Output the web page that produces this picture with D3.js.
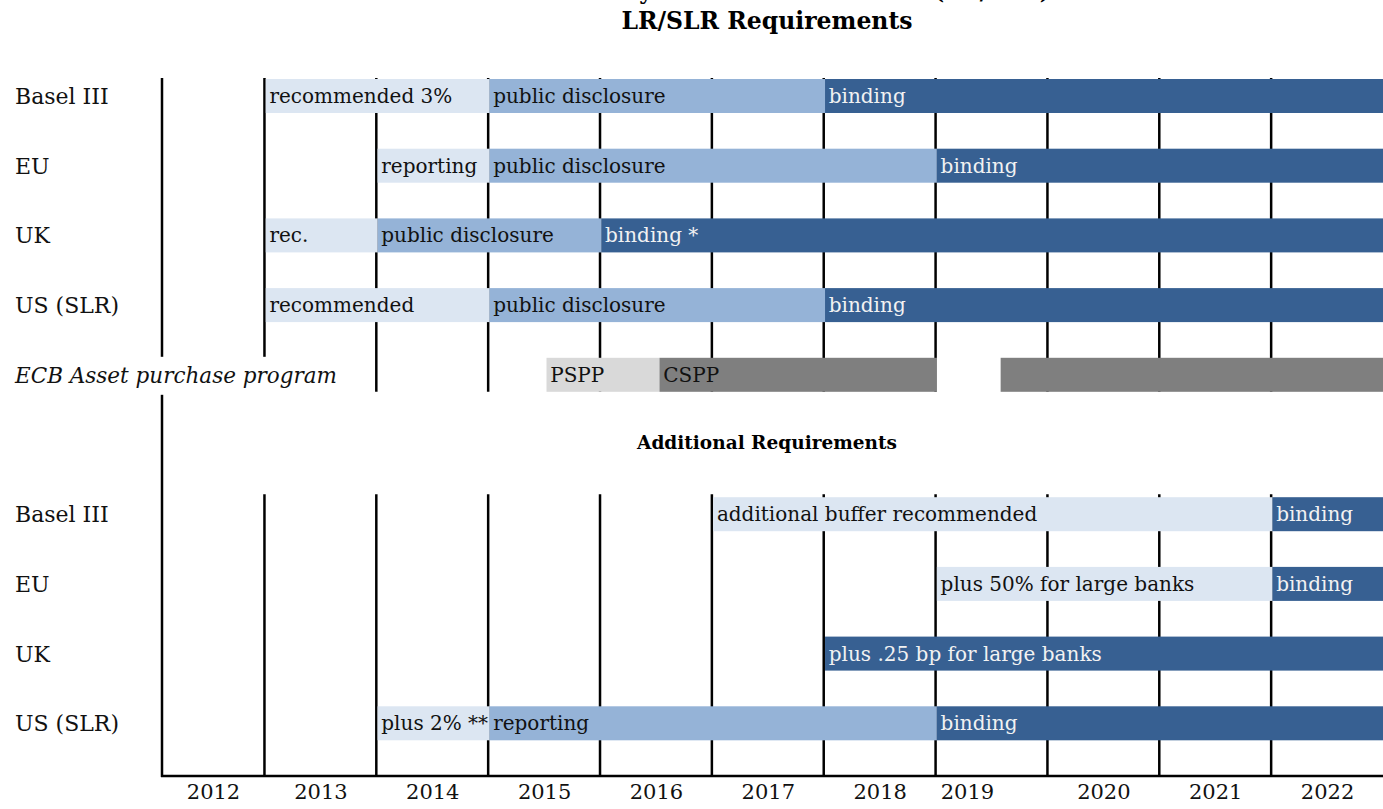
<!DOCTYPE html>
<html>
<head>
<meta charset="utf-8">
<script src="https://cdn.jsdelivr.net/npm/d3@7"></script>
<style>
  body { margin: 0; background: #fff; }
  svg text { font-family: "DejaVu Serif", "Liberation Serif", serif; }
</style>
</head>
<body>
<script>
// Timeline of leverage ratio requirements

const years = [2012, 2013, 2014, 2015, 2016, 2017, 2018, 2019, 2020, 2021, 2022];
const yearLabelAt = [2012.54, 2013.5, 2014.5, 2015.5, 2016.5, 2017.5, 2018.5, 2019.28, 2020.5, 2021.5, 2022.5];
const gridYears = [2013, 2014, 2015, 2016, 2017, 2018, 2019, 2020, 2021, 2022];

const lrRows = ["Basel III", "EU", "UK", "US (SLR)"];
const ecbRow = "ECB Asset purchase program";
const addRows = ["Basel III", "EU", "UK", "US (SLR)"];

// [row, from, to, label, kind]
const lrPhases = [
    [0, 2013, 2015, "recommended 3%", "rec"],
    [0, 2015, 2018, "public disclosure", "disc"],
    [0, 2018, 2023, "binding", "bind"],
    [1, 2014, 2015, "reporting", "rec"],
    [1, 2015, 2019, "public disclosure", "disc"],
    [1, 2019, 2023, "binding", "bind"],
    [2, 2013, 2014, "rec.", "rec"],
    [2, 2014, 2016, "public disclosure", "disc"],
    [2, 2016, 2023, "binding *", "bind"],
    [3, 2013, 2015, "recommended", "rec"],
    [3, 2015, 2018, "public disclosure", "disc"],
    [3, 2018, 2023, "binding", "bind"]
];

const ecbPhases = [
    [4, 2015.51, 2016.52, "PSPP", "pspp"],
    [4, 2016.52, 2019, "CSPP", "cspp"],
    [4, 2019, 2019.57, "", "pause"],
    [4, 2019.57, 2023, "", "cspp"]
];

const addPhases = [
    [6, 2017, 2022, "additional buffer recommended", "rec"],
    [6, 2022, 2023, "binding", "bind"],
    [7, 2019, 2022, "plus 50% for large banks", "rec"],
    [7, 2022, 2023, "binding", "bind"],
    [8, 2018, 2023, "plus .25 bp for large banks", "bind"],
    [9, 2014, 2015, "plus 2% **", "rec"],
    [9, 2015, 2019, "reporting", "disc"],
    [9, 2019, 2023, "binding", "bind"]
];

const fills = { rec: "#dce6f2", disc: "#95b3d7", bind: "#376092", pspp: "#d9d9d9", cspp: "#7f7f7f", pause: "#ffffff" };
const inks = { rec: "#111", disc: "#111", bind: "#f2f2f2", pspp: "#111", cspp: "#111", pause: "#111" };

const width = 1383, height = 809;
const left = 162, right = 1383;
const barH = 34;

const svg = d3.select("body").append("svg")
    .attr("width", width)
    .attr("height", height);

const x = d3.scaleLinear().domain([2012.084, 2023]).range([left, right]);
// row index -> top of bar
const y = d3.scaleLinear().domain([0, 9]).range([79, 706.3]);

const axisY = 776;
const topSectionEnd = y(4) + barH;
const bottomSectionStart = y(6) - 3;

// heading line cut off at the top edge, as in the source
svg.append("text")
    .attr("x", 426).attr("y", -1)
    .attr("font-size", 22).attr("font-weight", "bold")
    .attr("letter-spacing", 0.6)
    .text("Time Overview by National Authorities (LR/SLR)");

svg.append("text")
    .attr("x", 767).attr("y", 29)
    .attr("text-anchor", "middle")
    .attr("font-size", 23.5).attr("font-weight", "bold")
    .text("LR/SLR Requirements");

svg.append("text")
    .attr("x", 767).attr("y", y(5) + barH / 2 + 4)
    .attr("text-anchor", "middle")
    .attr("font-size", 18.5).attr("font-weight", "bold")
    .text("Additional Requirements");

// year grid lines
const grid = svg.append("g").attr("stroke", "#000").attr("stroke-width", 2.5);
grid.selectAll(".gt").data(gridYears).join("line")
    .attr("x1", d => x(d)).attr("x2", d => x(d))
    .attr("y1", y(0) - 1).attr("y2", topSectionEnd);
grid.selectAll(".gb").data(gridYears).join("line")
    .attr("x1", d => x(d)).attr("x2", d => x(d))
    .attr("y1", bottomSectionStart).attr("y2", axisY);
grid.append("line")
    .attr("x1", left).attr("x2", left)
    .attr("y1", y(0) - 1).attr("y2", axisY + 1);
grid.append("line")
    .attr("x1", left - 1).attr("x2", right)
    .attr("y1", axisY).attr("y2", axisY);

// bars
const allPhases = lrPhases.concat(ecbPhases, addPhases);
const bars = svg.append("g");
bars.selectAll("rect").data(allPhases).join("rect")
    .attr("x", d => x(d[1]) + 1.3)
    .attr("y", d => y(d[0]))
    .attr("width", d => Math.min(x(d[2]) + 1.3, right) - x(d[1]) - 1.3)
    .attr("height", barH)
    .attr("fill", d => fills[d[4]]);
bars.selectAll("text").data(allPhases.filter(d => d[3])).join("text")
    .attr("x", d => x(d[1]) + 5)
    .attr("y", d => y(d[0]) + barH / 2 + 7)
    .attr("font-size", 20)
    .attr("fill", d => inks[d[4]])
    .text(d => d[3]);

// row labels
const rowLabels = svg.append("g").attr("font-size", 22).attr("fill", "#111");
rowLabels.selectAll(".lr").data(lrRows).join("text")
    .attr("x", 15).attr("y", (d, i) => y(i) + barH / 2 + 8)
    .text(d => d);
rowLabels.selectAll(".ad").data(addRows).join("text")
    .attr("x", 15).attr("y", (d, i) => y(i + 6) + barH / 2 + 8)
    .text(d => d);

const ecbBg = rowLabels.append("rect").attr("fill", "#fff");
const ecbText = rowLabels.append("text")
    .attr("x", 15).attr("y", y(4) + barH / 2 + 8)
    .attr("font-style", "italic")
    .attr("font-size", 21.5)
    .text(ecbRow);
const bb = ecbText.node().getBBox();
ecbBg.attr("x", bb.x - 4).attr("y", y(4) - 1)
    .attr("width", bb.width + 10).attr("height", barH + 4);

// year labels
const axis = d3.axisBottom(x)
    .tickValues(yearLabelAt)
    .tickSize(0)
    .tickPadding(0)
    .tickFormat((d, i) => years[i]);
const gAxis = svg.append("g").attr("transform", `translate(0,${axisY + 8})`).call(axis);
gAxis.select(".domain").remove();
gAxis.selectAll("text")
    .attr("font-family", "DejaVu Serif")
    .attr("font-size", 21)
    .attr("fill", "#111");
</script>
</body>
</html>
